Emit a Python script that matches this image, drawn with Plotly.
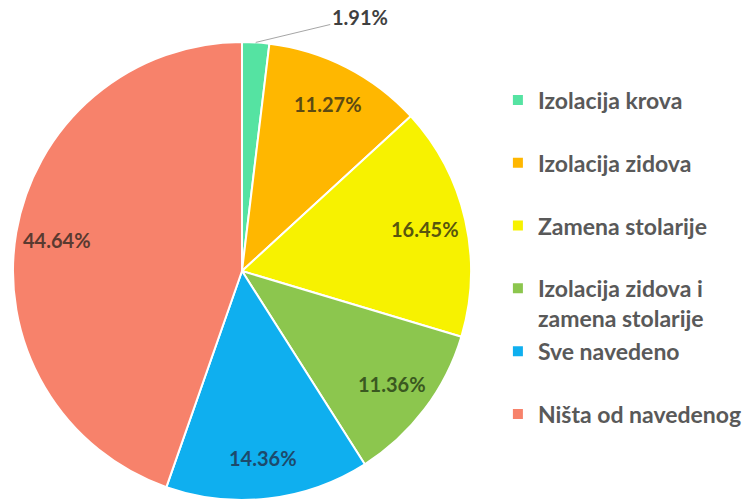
import math
import plotly.graph_objects as go

categories = ["Izolacija krova", "Izolacija zidova", "Zamena stolarije",
              "Izolacija zidova i<br>zamena stolarije", "Sve navedeno", "Ništa od navedenog"]
values = [1.91, 11.27, 16.45, 11.36, 14.36, 44.64]
slice_colors = ["#55E3A2", "#FFB700", "#F7F200", "#8CC64E", "#0FAFEF", "#F7826B"]
label_colors = ["#404040", "#5C4A12", "#58560E", "#3A5820", "#1D4A6C", "#5A3A30"]

W, H = 756, 500
# target pie geometry (pixels)
cx_px, cy_px, r_px = 242, 271, 229
label_r = 0.82  # radial position of inside labels, fraction of radius

pad = ["<br> ", "<br> ", "<br> ", "", "<br> ", ""]
legend_labels = [c + p for c, p in zip(categories, pad)]

fig = go.Figure(go.Pie(
    labels=legend_labels,
    values=values,
    sort=False,
    direction="clockwise",
    rotation=0,
    marker=dict(colors=slice_colors, line=dict(color="white", width=2)),
    textinfo="none",
    domain=dict(x=[(cx_px - r_px) / W, (cx_px + r_px) / W],
                y=[max(0.0, (H - cy_px - r_px) / H), min(1.0, (H - cy_px + r_px) / H)]),
    hoverinfo="skip",
))

total = sum(values)
cum = 0.0
for i, v in enumerate(values):
    mid = (cum + v / 2) / total * 2 * math.pi
    cum += v
    label = f"{v:.2f}%"
    if i == 0:
        ex = cx_px + r_px * math.sin(mid)
        ey = cy_px - r_px * math.cos(mid)
        fig.add_annotation(
            x=ex / W, y=(H - ey) / H, xref="paper", yref="paper",
            text=label, showarrow=True, arrowhead=0, arrowwidth=1,
            arrowcolor="#A6A6A6", ax=104, ay=-25,
            font=dict(family="Lato", size=20, color=label_colors[i], weight="bold"),
        )
    else:
        lx = cx_px + label_r * r_px * math.sin(mid)
        ly = cy_px - label_r * r_px * math.cos(mid)
        fig.add_annotation(
            x=lx / W, y=(H - ly) / H, xref="paper", yref="paper",
            xanchor="center", yanchor="middle",
            text=label, showarrow=False,
            font=dict(family="Lato", size=20, color=label_colors[i], weight="bold"),
        )

fig.update_layout(
    width=W, height=H,
    margin=dict(l=0, r=0, t=0, b=0, autoexpand=False),
    paper_bgcolor="white",
    showlegend=True,
    legend=dict(x=0.6586, y=0.843, xanchor="left", yanchor="top", valign="top",
                font=dict(family="Lato", size=23, color="#595959", weight="bold"),
                traceorder="normal", itemclick=False, itemdoubleclick=False),
)

fig.write_html("out.html", config={"displayModeBar": False},
               post_script="document.body.style.margin='0';")
